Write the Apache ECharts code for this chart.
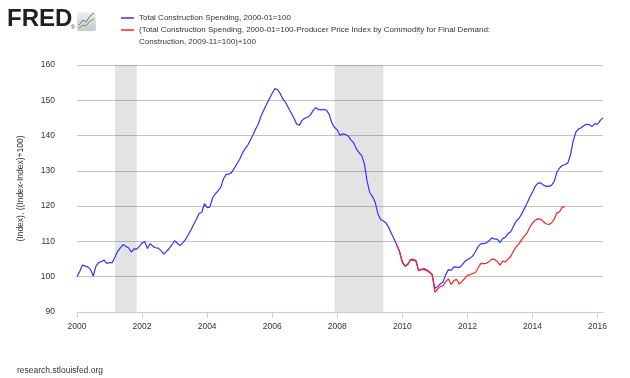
<!DOCTYPE html>
<html><head><meta charset="utf-8">
<script src="https://cdn.jsdelivr.net/npm/echarts@6/dist/echarts.min.js"></script>
<style>html,body{margin:0;padding:0;background:#fff}#c{width:630px;height:378px}</style>
</head><body><div id="c"></div>
<script>
// ---- data ----
const xTickYears = [2000, 2002, 2004, 2006, 2008, 2010, 2012, 2014, 2016];
const yTicks = [90, 100, 110, 120, 130, 140, 150, 160];
const spendingStart = '2000-01';
const spending = [
  100.0,101.5,103.3,103.0,102.8,102.0,100.2,103.0,104.0,104.3,104.7,103.8,
  104.0,104.0,105.5,107.2,108.2,109.1,108.6,108.2,107.0,107.9,107.8,108.6,
  109.6,109.9,108.0,109.4,108.6,108.2,108.1,107.4,106.4,107.2,108.0,109.0,
  110.2,109.5,108.8,109.6,110.5,111.9,113.2,114.8,116.2,117.9,118.2,120.7,
  119.6,119.7,122.3,123.5,124.3,125.3,127.7,129.0,129.1,129.5,130.7,132.0,
  133.3,135.0,136.3,137.3,138.8,140.3,142.0,143.5,145.8,147.4,149.0,150.5,
  152.0,153.3,153.0,151.8,150.3,149.3,147.8,146.4,145.0,143.3,142.9,144.3,
  144.9,145.2,145.8,147.0,147.9,147.4,147.3,147.4,147.2,146.0,143.6,142.3,
  141.6,140.1,140.5,140.3,139.9,138.8,138.0,136.3,135.2,134.3,132.0,127.0,
  123.8,122.7,121.0,117.8,116.2,115.8,115.2,113.9,112.2,110.6,108.9,107.0,
  104.2,103.0,103.4,104.9,104.9,104.6,101.8,102.1,102.3,101.9,101.4,100.5,
  96.7,97.2,98.0,98.5,100.6,102.0,101.8,102.8,102.7,102.6,103.3,104.3,
  104.8,105.3,105.9,107.2,108.6,109.4,109.4,109.6,110.2,111.0,110.7,110.6,
  109.7,110.8,111.2,112.2,112.8,114.3,115.8,116.5,117.8,119.3,120.8,122.5,
  124.0,125.6,126.5,126.6,126.0,125.6,125.6,125.9,127.0,129.6,130.8,131.5,
  131.8,132.2,134.5,138.5,141.0,141.9,142.2,142.9,143.2,143.1,142.6,143.4,
  143.2,144.3,145.0
];
const diffStart = '2009-11';
const diff = [
  108.9,107.0,
  104.0,103.0,103.6,104.7,104.7,104.4,101.7,102.0,102.0,101.7,101.2,100.6,
  95.6,96.5,97.2,97.5,98.6,99.4,97.8,98.9,99.3,97.9,98.7,99.5,
  100.4,100.6,100.9,101.2,102.6,103.8,103.7,103.8,104.3,105.0,104.9,104.3,
  103.3,104.4,104.2,105.0,105.8,107.3,108.5,109.3,110.5,111.5,112.4,114.0,
  115.2,116.0,116.4,116.3,115.6,115.0,114.8,115.2,116.3,118.1,118.4,119.8,
  119.8
];
const recessions = [['2001-03', '2001-11'], ['2007-12', '2009-06']];
const nameBlue = 'Total Construction Spending, 2000-01=100';
const nameRed = '(Total Construction Spending, 2000-01=100-Producer Price Index by Commodity for Final Demand:\nConstruction, 2009-11=100)+100';
const yAxisName = '(Index), ((Index-Index)+100)';

// ---- helpers ----
function ym(s) { const p = s.split('-'); return +p[0] + (+p[1] - 1) / 12; }
function toPoints(start, vals) { const s = ym(start); return vals.map((v, i) => [s + i / 12, v]); }

const FONT = "'Liberation Sans Narrow','Liberation Sans',sans-serif";
const TXT = '#333333';
const chart = echarts.init(document.getElementById('c'), null, {renderer: 'canvas'});
const lastX = ym(spendingStart) + (spending.length - 1) / 12;

chart.setOption({
  animation: false,
  backgroundColor: '#ffffff',
  textStyle: {fontFamily: FONT},
  grid: {left: 77, right: 27, top: 65, bottom: 66},
  legend: [
    {data: [nameBlue], left: 121, top: 12, padding: 0, itemWidth: 13, itemHeight: 12, itemGap: 0, itemStyle: {opacity: 0.75},
     icon: 'path://M0 0M13 12M0 5h13v2H0z',
     textStyle: {fontSize: 8, lineHeight: 12, color: TXT, fontFamily: FONT}},
    {data: [nameRed], left: 121, top: 24, padding: 0, itemWidth: 13, itemHeight: 24, itemGap: 0, itemStyle: {opacity: 0.75},
     icon: 'path://M0 0M13 24M0 5h13v2H0z',
     textStyle: {fontSize: 8, lineHeight: 12, color: TXT, fontFamily: FONT}}
  ],
  xAxis: {
    type: 'value', min: ym(spendingStart), max: lastX,
    axisLine: {show: true, lineStyle: {color: '#c0d0e0', width: 1}},
    axisTick: {show: true, length: 6, customValues: xTickYears, lineStyle: {color: '#c0d0e0'}},
    axisLabel: {customValues: xTickYears, formatter: v => String(v), fontSize: 8.5, color: TXT, margin: 10, fontFamily: FONT},
    splitLine: {show: false}
  },
  yAxis: {
    type: 'value', min: yTicks[0], max: yTicks[yTicks.length - 1], interval: 10,
    name: yAxisName, nameLocation: 'middle', nameGap: 52,
    nameTextStyle: {fontSize: 8.5, color: TXT, fontFamily: FONT},
    axisLine: {show: false}, axisTick: {show: false},
    axisLabel: {fontSize: 8.5, color: TXT, margin: 22, fontFamily: FONT},
    splitLine: {lineStyle: {color: '#c4c4c4', width: 1}}
  },
  series: [
    {name: nameBlue, type: 'line', symbol: 'none', color: '#3333ff',
     lineStyle: {color: '#3333ff', width: 1.2},
     data: toPoints(spendingStart, spending),
     markArea: {silent: true, itemStyle: {color: 'rgba(0,0,0,0.11)'},
       data: recessions.map(r => [{xAxis: ym(r[0])}, {xAxis: ym(r[1])}])}},
    {name: nameRed, type: 'line', symbol: 'none', color: '#ff2222',
     lineStyle: {color: '#ff2222', width: 1.2},
     data: toPoints(diffStart, diff)}
  ],
  graphic: [
    {type: 'text', left: 7, top: 7, style: {text: 'FRED', font: "bold 24px 'Liberation Sans'", fill: '#231f20'}},
    {type: 'text', left: 71, top: 25, style: {text: '®', font: "5px 'Liberation Sans'", fill: '#231f20'}},
    {type: 'rect', left: 77, top: 12, shape: {width: 19, height: 19, r: 2},
     style: {fill: new echarts.graphic.LinearGradient(0, 0, 0, 1, [{offset: 0, color: '#f0f0f0'}, {offset: 1, color: '#c8c8c8'}])}},
    {type: 'polyline', shape: {points: [[79, 25], [83, 20], [86, 22], [90, 16], [94, 13]]}, style: {stroke: '#4a78b8', lineWidth: 1, fill: null}},
    {type: 'polyline', shape: {points: [[79, 28], [83, 25], [86, 26], [90, 21], [94, 19]]}, style: {stroke: '#6aa040', lineWidth: 1, fill: null}},
    {type: 'text', left: 17, top: 366, style: {text: 'research.stlouisfed.org', font: "8.5px 'Liberation Sans Narrow','Liberation Sans'", fill: TXT}}
  ]
});
</script></body></html>
